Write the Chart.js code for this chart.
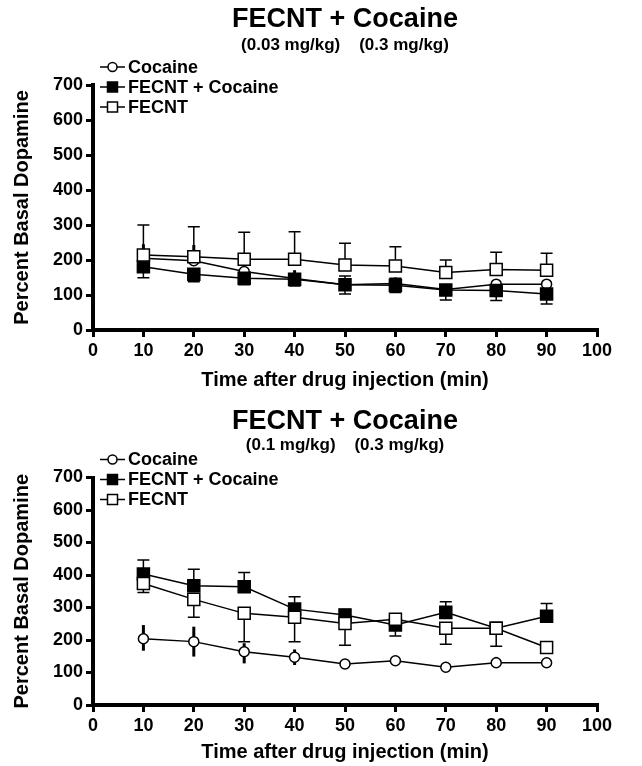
<!DOCTYPE html>
<html>
<head>
<meta charset="utf-8">
<script src="https://cdn.jsdelivr.net/npm/chart.js@4.4.1/dist/chart.umd.min.js"></script>
<style>
  html, body { margin: 0; padding: 0; background: #fff; }
  canvas { display: block; }
</style>
</head>
<body>
<canvas id="topChart" width="642" height="395"></canvas>
<canvas id="bottomChart" width="642" height="371"></canvas>
<script>
// --- data ---
const times = [10, 20, 30, 40, 50, 60, 70, 80, 90];
const xTicks = [0, 10, 20, 30, 40, 50, 60, 70, 80, 90, 100];
const yTicks = [0, 100, 200, 300, 400, 500, 600, 700];
const seriesNames = ['Cocaine', 'FECNT + Cocaine', 'FECNT'];

// top panel: FECNT 0.03 mg/kg + cocaine 0.3 mg/kg
const cocTop    = [205, 198, 167, 147, 129, 133, 116, 131, 131];
const cocTopHi  = [245, 243, 179, 171, null, 150, null, 143, 143];
const fcTop     = [181, 159, 148, 145, 129, 128, 114, 113, 103];
const fcTopHi   = [null, null, null, null, 154, 148, null, null, null];
const fcTopLo   = [149, 138, 129, 126, 103, 107, 86, 84, 74];
const fecTop    = [214, 209, 202, 202, 186, 183, 164, 173, 171];
const fecTopHi  = [300, 295, 279, 281, 248, 238, 200, 222, 219];

// bottom panel: FECNT 0.1 mg/kg + cocaine 0.3 mg/kg
const cocBot    = [204, 195, 164, 147, 126, 136, 116, 130, 130];
const cocBotHi  = [246, 241, 190, 171, null, null, null, 148, null];
const cocBotLo  = [167, 149, 128, 123, null, null, null, null, null];
const fcBot     = [403, 367, 364, 295, 277, 246, 285, 236, 273];
const fcBotHi   = [446, 418, 408, 333, 294, null, 318, null, 312];
const fcBotLo   = [null, null, null, null, null, 212, null, null, null];
const fecBot    = [374, 325, 282, 270, 251, 264, 236, 236, 177];
const fecBotLo  = [346, 270, 195, 195, 184, null, 187, 181, null];

const FONT = '"Liberation Sans", Arial, sans-serif';
Chart.defaults.font.family = FONT;
Chart.defaults.color = '#000';

const pts = vals => vals.map((v, i) => ({ x: times[i], y: v }));

// error bars drawn under the markers
const errorBars = {
  id: 'errorBars',
  beforeDatasetsDraw(chart) {
    const ctx = chart.ctx;
    const ys = chart.scales.y;
    chart.data.datasets.forEach((ds, i) => {
      const meta = chart.getDatasetMeta(i);
      ctx.save();
      ctx.strokeStyle = '#000';
      ctx.lineWidth = ds.errWidth;
      meta.data.forEach((pt, j) => {
        [ds.errHi, ds.errLo].forEach(arr => {
          if (!arr || arr[j] == null) return;
          const yEnd = ys.getPixelForValue(arr[j]);
          ctx.beginPath();
          ctx.moveTo(pt.x, pt.y);
          ctx.lineTo(pt.x, yEnd);
          if (ds.errCap) {
            ctx.moveTo(pt.x - ds.errCap, yEnd);
            ctx.lineTo(pt.x + ds.errCap, yEnd);
          }
          ctx.stroke();
        });
      });
      ctx.restore();
    });
  }
};

// legend with line + marker symbols, sitting in the top-left corner
const lineLegend = {
  id: 'lineLegend',
  afterDraw(chart) {
    const ctx = chart.ctx, area = chart.chartArea;
    const x0 = area.left + 7;
    chart.data.datasets.forEach((ds, i) => {
      const yy = area.top - 18 + i * 20;
      ctx.save();
      ctx.strokeStyle = '#000';
      ctx.lineWidth = 1.5;
      ctx.beginPath();
      ctx.moveTo(x0, yy);
      ctx.lineTo(x0 + 25, yy);
      ctx.stroke();
      ctx.fillStyle = ds.pointBackgroundColor;
      ctx.beginPath();
      if (ds.pointStyle === 'circle') ctx.arc(x0 + 12.5, yy, 4.5, 0, Math.PI * 2);
      else ctx.rect(x0 + 7.5, yy - 5, 10, 10);
      ctx.fill();
      ctx.stroke();
      ctx.fillStyle = '#000';
      ctx.font = 'bold 18px ' + FONT;
      ctx.textBaseline = 'middle';
      ctx.fillText(ds.label, x0 + 28, yy + 1);
      ctx.restore();
    });
  }
};

function makeChart(id, opts) {
  const datasets = [
    { label: seriesNames[0], data: pts(opts.coc), errHi: opts.cocHi, errLo: opts.cocLo,
      errWidth: 3, errCap: 0, pointStyle: 'circle', pointRadius: 5,
      pointBackgroundColor: '#fff', order: 3 },
    { label: seriesNames[1], data: pts(opts.fc), errHi: opts.fcHi, errLo: opts.fcLo,
      errWidth: 1.5, errCap: 6, pointStyle: 'rect', pointRadius: 8.5,
      pointBackgroundColor: '#000', order: 2 },
    { label: seriesNames[2], data: pts(opts.fec), errHi: opts.fecHi, errLo: opts.fecLo,
      errWidth: 1.5, errCap: 6, pointStyle: 'rect', pointRadius: 8.5,
      pointBackgroundColor: '#fff', order: 1 }
  ];
  datasets.forEach(d => {
    d.borderColor = '#000';
    d.borderWidth = 1.5;
    d.pointBorderColor = '#000';
    d.pointBorderWidth = 1.5;
    d.tension = 0;
  });

  return new Chart(document.getElementById(id), {
    type: 'line',
    data: { datasets },
    plugins: [errorBars, lineLegend],
    options: {
      responsive: false,
      animation: false,
      layout: { padding: { top: 0, left: 0, right: 45, bottom: 0 } },
      plugins: {
        legend: { display: false },
        tooltip: { enabled: false },
        title: {
          display: true, text: 'FECNT + Cocaine', fullSize: false, color: '#000',
          font: { size: 27, weight: 'bold', lineHeight: 1 },
          padding: { top: opts.titleTop, bottom: opts.titleBottom }
        },
        subtitle: {
          display: true, text: opts.dose, fullSize: false, color: '#000',
          font: { size: 17, weight: 'bold', lineHeight: 1.2 },
          padding: { top: 0, bottom: opts.subBottom }
        }
      },
      scales: {
        x: {
          type: 'linear', min: 0, max: 100,
          afterBuildTicks: s => { s.ticks = xTicks.map(v => ({ value: v })); },
          afterFit: s => { s.height = opts.xHeight; },
          ticks: { color: '#000', padding: 3, font: { size: 18, weight: 'bold' } },
          grid: { drawOnChartArea: false, drawTicks: true, tickLength: 7, lineWidth: 3, color: '#000' },
          border: { display: true, width: 4, color: '#000' },
          title: {
            display: true, text: 'Time after drug injection (min)', color: '#000',
            font: { size: 20, weight: 'bold' }, padding: { top: 0, bottom: opts.xTitlePad }
          }
        },
        y: {
          min: 0, max: 700,
          afterBuildTicks: s => { s.ticks = yTicks.map(v => ({ value: v })); },
          afterFit: s => { s.width = 93; },
          ticks: { color: '#000', padding: 3, font: { size: 18, weight: 'bold' } },
          grid: { drawOnChartArea: false, drawTicks: true, tickLength: 7, lineWidth: 3, color: '#000' },
          border: { display: true, width: 4, color: '#000' },
          title: {
            display: true, text: 'Percent Basal Dopamine', color: '#000',
            font: { size: 20, weight: 'bold' }, padding: { top: 10, bottom: 0 }
          }
        }
      }
    }
  });
}

makeChart('topChart', {
  coc: cocTop, cocHi: cocTopHi, cocLo: null,
  fc: fcTop, fcHi: fcTopHi, fcLo: fcTopLo,
  fec: fecTop, fecHi: fecTopHi, fecLo: null,
  dose: '(0.03 mg/kg)    (0.3 mg/kg)',
  titleTop: 6.5, titleBottom: 1.3, subBottom: 29.8, xHeight: 65, xTitlePad: 3
});

makeChart('bottomChart', {
  coc: cocBot, cocHi: cocBotHi, cocLo: cocBotLo,
  fc: fcBot, fcHi: fcBotHi, fcLo: fcBotLo,
  fec: fecBot, fecHi: null, fecLo: fecBotLo,
  dose: '(0.1 mg/kg)    (0.3 mg/kg)',
  titleTop: 13.5, titleBottom: 0, subBottom: 21.6, xHeight: 61, xTitlePad: 2
});
</script>
</body>
</html>
